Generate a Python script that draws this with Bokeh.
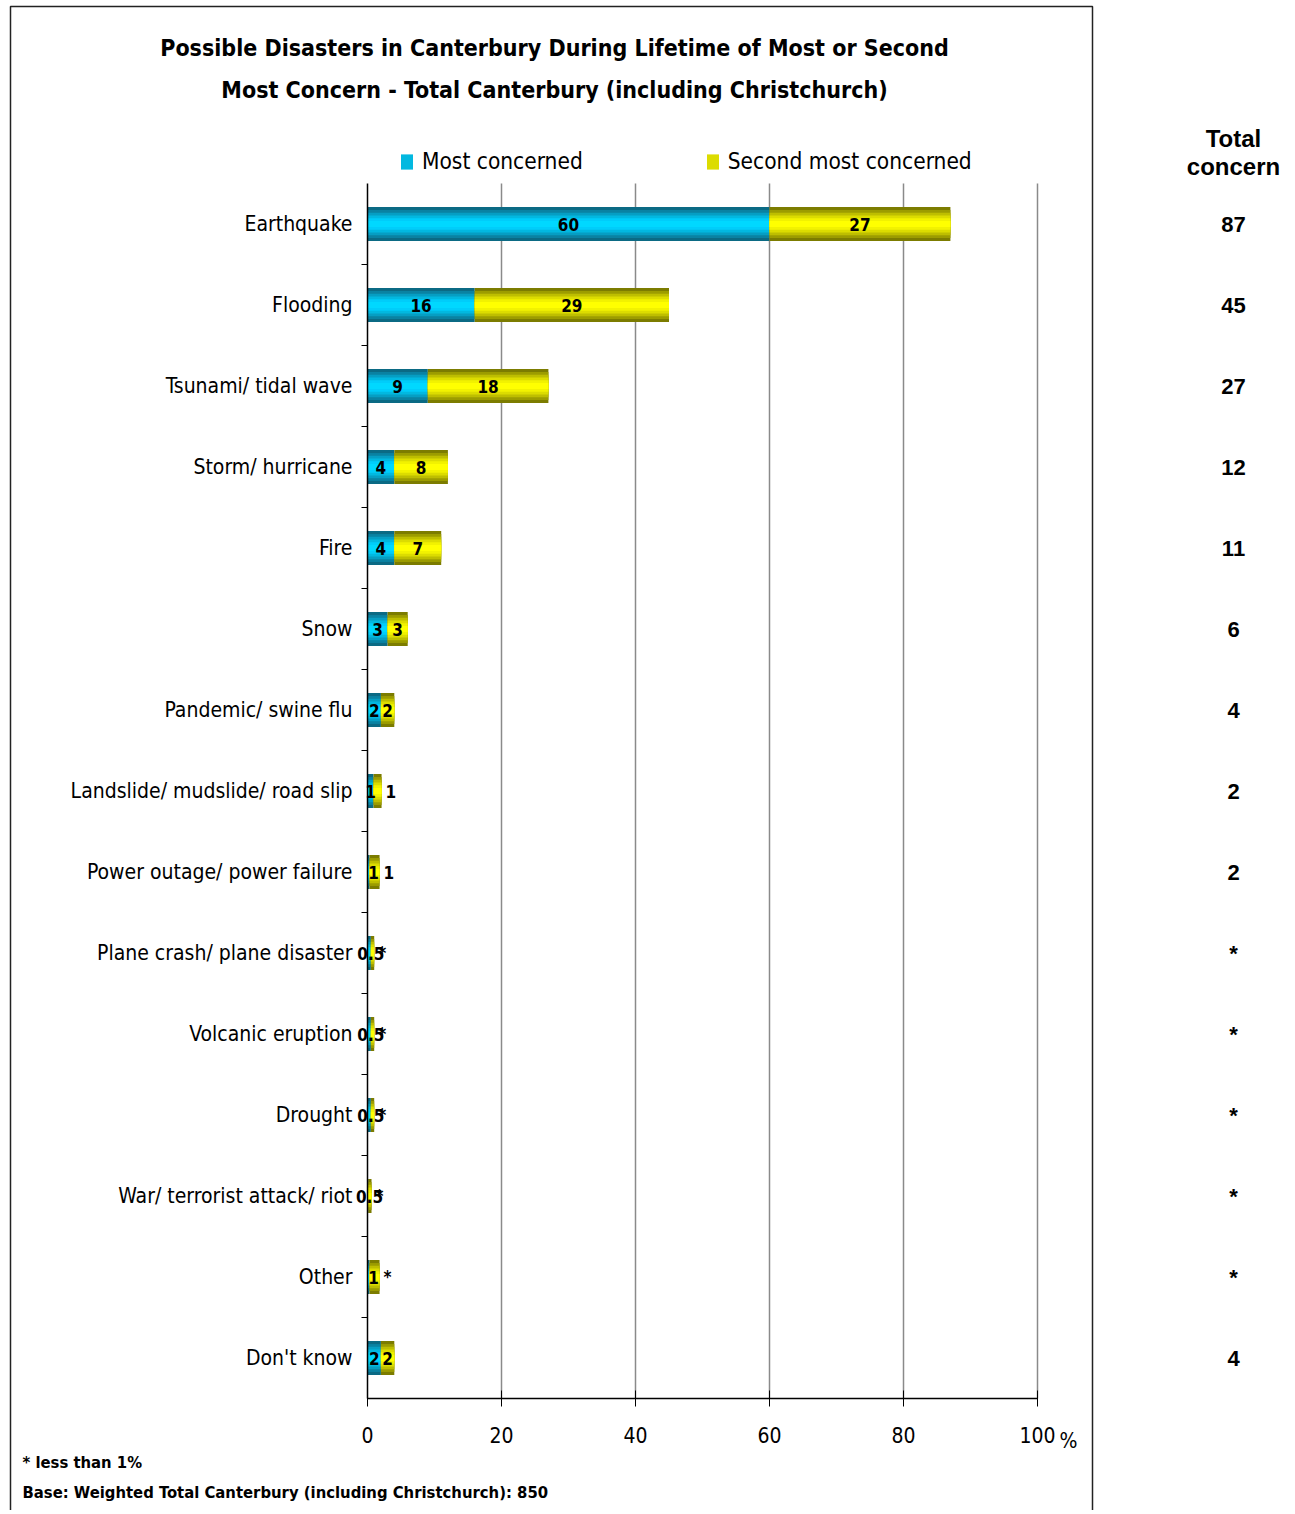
from bokeh.plotting import figure
from bokeh.models import (Range1d, FixedTicker, Label, BoxAnnotation, Legend,
                          LegendItem, ColumnDataSource)
from bokeh.core.properties import value
from bokeh.embed import file_html
from bokeh.resources import INLINE

categories = ["Earthquake", "Flooding", "Tsunami/ tidal wave", "Storm/ hurricane",
              "Fire", "Snow", "Pandemic/ swine flu", "Landslide/ mudslide/ road slip",
              "Power outage/ power failure", "Plane crash/ plane disaster",
              "Volcanic eruption", "Drought", "War/ terrorist attack/ riot",
              "Other", "Don't know"]
most = [60, 16, 9, 4, 4, 3, 2, 0.9, 0.3, 0.5, 0.5, 0.5, 0.1, 0.3, 2]
second = [27, 29, 18, 8, 7, 3, 2, 1.2, 1.5, 0.5, 0.5, 0.5, 0.5, 1.5, 2]
most_labels = ["60", "16", "9", "4", "4", "3", "2", "1", "1", "0.5", "0.5", "0.5", "0.5", "1", "2"]
second_labels = ["27", "29", "18", "8", "7", "3", "2", "1", "1", "*", "*", "*", "*", "*", "2"]
total_labels = ["87", "45", "27", "12", "11", "6", "4", "2", "2", "*", "*", "*", "*", "*", "4"]
x_ticks = [0, 20, 40, 60, 80, 100]
grid_ticks = [20, 40, 60, 80, 100]

NARROW = "'Liberation Sans Narrow', 'DejaVu Sans Condensed', 'Liberation Sans', sans-serif"
WIDE = "'Liberation Sans', sans-serif"

n = len(categories)
idx = list(range(n))
total = [m + s for m, s in zip(most, second)]
most_x = [m / 2 if m >= 0.6 else t / 2 for m, t in zip(most, total)]
sec_inside = [s >= 1.8 for s in second]

src = ColumnDataSource(dict(y=idx, most=most, total=total, mx=most_x, ml=most_labels))
src_in = ColumnDataSource(dict(
    y=[i for i in idx if sec_inside[i]],
    x=[most[i] + second[i] / 2 for i in idx if sec_inside[i]],
    t=[second_labels[i] for i in idx if sec_inside[i]]))
src_out = ColumnDataSource(dict(
    y=[i for i in idx if not sec_inside[i]],
    x=[total[i] for i in idx if not sec_inside[i]],
    t=[second_labels[i] for i in idx if not sec_inside[i]]))

# canvas geometry (frame = whole canvas; axes are pinned with fixed_location)
W, H = 1290, 1510
X0, PX = 367, 6.7      # canvas px of x=0, px per percent
Y0, PY = 183, 81       # canvas px of top of plot area, px per category
x_start, x_end = -X0 / PX, (W - X0) / PX
y_top, y_bot = -0.5 - Y0 / PY, -0.5 + (H - Y0) / PY

p = figure(width=W, height=H, x_range=Range1d(x_start, x_end), y_range=Range1d(y_bot, y_top),
           output_backend="svg", toolbar_location=None,
           min_border_left=0, min_border_right=0, min_border_top=0, min_border_bottom=0)
p.outline_line_color = None
p.background_fill_color = "white"
p.border_fill_color = "white"

# axes
xa = p.xaxis[0]
xa.fixed_location = n - 0.5
xa.bounds = (0, 100)
xa.ticker = FixedTicker(ticks=x_ticks)
xa.major_tick_in = 8
xa.major_tick_out = 8
xa.minor_tick_line_color = None
xa.axis_line_color = "black"
xa.axis_line_width = 1.5
xa.major_tick_line_color = "black"
xa.major_label_text_font = NARROW
xa.major_label_text_font_size = "21px"
xa.major_label_text_color = "black"
xa.major_label_standoff = 20

ya = p.yaxis[0]
ya.fixed_location = 0
ya.bounds = (-0.5, n - 0.5)
ya.ticker = FixedTicker(ticks=idx, minor_ticks=[i + 0.5 for i in range(n - 1)])
ya.major_label_overrides = {i: c for i, c in enumerate(categories)}
ya.major_tick_line_color = None
ya.major_tick_out = 0
ya.major_tick_in = 0
ya.minor_tick_in = 0
ya.minor_tick_out = 6
ya.minor_tick_line_color = "black"
ya.axis_line_color = "black"
ya.axis_line_width = 1.5
ya.major_label_text_font = NARROW
ya.major_label_text_font_size = "21px"
ya.major_label_text_color = "black"
ya.major_label_standoff = 9

p.xgrid.visible = False
p.ygrid.visible = False
# vertical grid lines limited to the plot area
p.segment(x0=grid_ticks, x1=grid_ticks, y0=[-0.5] * len(grid_ticks), y1=[n - 0.5] * len(grid_ticks),
          line_color="#8a8a8a", line_width=1.5)

# bars with layered shading
BH = 0.42
blue_shades = ["#0b6a84", "#0a82a2", "#069ec3", "#02b8e0", "#00cdfa", "#00d8ff"]
yel_shades = ["#7c7c00", "#9c9c00", "#bebe00", "#dcdc00", "#f2f200", "#ffff00"]
fracs = [1.0, 0.82, 0.66, 0.5, 0.34, 0.18]
blue_r, yel_r = [], []
for c, f in zip(blue_shades, fracs):
    blue_r.append(p.hbar(y="y", left=0, right="most", height=BH * f, source=src,
                         fill_color=c, line_color=None))
for c, f in zip(yel_shades, fracs):
    yel_r.append(p.hbar(y="y", left="most", right="total", height=BH * f, source=src,
                        fill_color=c, line_color=None))

# bar labels
LBL = dict(text_font=value(NARROW), text_font_style="bold", text_font_size="17px",
           text_color="black", text_baseline="middle")
p.text(x="mx", y="y", text="ml", source=src, text_align="center", **LBL)
p.text(x="x", y="y", text="t", source=src_in, text_align="center", **LBL)
p.text(x="x", y="y", text="t", source=src_out, text_align="left", x_offset=4, **LBL)


def sy(cy):
    return H - cy


# title
for txt, cy in [("Possible Disasters in Canterbury During Lifetime of Most or Second", 47),
                ("Most Concern - Total Canterbury (including Christchurch)", 89)]:
    p.add_layout(Label(x=554, y=sy(cy), x_units="screen", y_units="screen", text=txt,
                       text_align="center", text_baseline="middle", text_font=NARROW,
                       text_font_style="bold", text_font_size="23px", text_color="black"))

# legend
legend = Legend(items=[LegendItem(label="Most concerned", renderers=[blue_r[3]]),
                       LegendItem(label="Second most concerned", renderers=[yel_r[3]])],
                orientation="horizontal", location=(399, sy(174)),
                glyph_width=15, glyph_height=19, label_standoff=8, spacing=122,
                padding=0, margin=0, border_line_color=None, background_fill_alpha=0,
                label_text_font=NARROW, label_text_font_size="22.5px", label_text_color="black",
                label_height=19)
p.add_layout(legend, "center")

# Total concern column
for txt, cy in [("Total", 138), ("concern", 166)]:
    p.add_layout(Label(x=1233, y=sy(cy), x_units="screen", y_units="screen", text=txt,
                       text_align="center", text_baseline="middle", text_font=WIDE,
                       text_font_style="bold", text_font_size="24px", text_color="black"))
for i, t in enumerate(total_labels):
    p.add_layout(Label(x=1233, y=i, x_units="screen", y_units="data", text=t,
                       text_align="center", text_baseline="middle", text_font=WIDE,
                       text_font_style="bold", text_font_size="22px", text_color="black"))

# percent sign
p.add_layout(Label(x=1068, y=sy(1440), x_units="screen", y_units="screen", text="%",
                   text_align="center", text_baseline="middle", text_font=NARROW,
                   text_font_size="21px", text_color="black"))

# footer
for txt, cy in [("* less than 1%", 1462),
                ("Base: Weighted Total Canterbury (including Christchurch): 850", 1492)]:
    p.add_layout(Label(x=22, y=sy(cy), x_units="screen", y_units="screen", text=txt,
                       text_align="left", text_baseline="middle", text_font=NARROW,
                       text_font_style="bold", text_font_size="16.5px", text_color="black"))

# outer chart border
p.add_layout(BoxAnnotation(left=10, right=1092, top=sy(6), bottom=sy(1560),
                           left_units="screen", right_units="screen", top_units="screen",
                           bottom_units="screen", fill_alpha=0, line_color="#222222",
                           line_alpha=1.0, line_width=1.5, level="underlay"))

open("out.html", "w").write(file_html(p, INLINE))
